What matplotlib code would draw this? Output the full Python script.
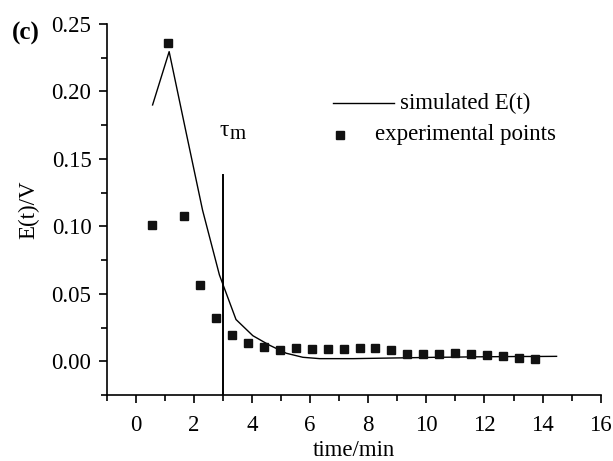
import matplotlib.pyplot as plt
from matplotlib.lines import Line2D
from matplotlib.ticker import MultipleLocator

plt.rcParams['font.family'] = ['Liberation Serif', 'DejaVu Serif']

# experimental residence time points
t_exp = [0.55, 1.10, 1.65, 2.20, 2.75, 3.30, 3.85, 4.40, 4.95, 5.50, 6.05, 6.60, 7.15,
         7.70, 8.25, 8.80, 9.35, 9.90, 10.45, 11.00, 11.55, 12.10, 12.65, 13.20, 13.75]
e_exp = [0.101, 0.236, 0.108, 0.0564, 0.0324, 0.0193, 0.0136, 0.0106, 0.0087, 0.0099,
         0.0093, 0.0093, 0.0093, 0.0099, 0.0099, 0.0084, 0.0057, 0.0057, 0.0057, 0.0065,
         0.0055, 0.0050, 0.0040, 0.0025, 0.0018]

# simulated E(t)
t_sim = [0.58, 1.15, 1.73, 2.30, 2.88, 3.45, 4.03, 4.60, 5.18, 5.75, 6.33, 6.90, 7.48,
         8.05, 8.63, 9.20, 9.78, 10.35, 10.93, 11.50, 12.08, 12.65, 13.23, 13.80, 14.48]
e_sim = [0.190, 0.2295, 0.170, 0.112, 0.064, 0.031, 0.019, 0.012, 0.0060, 0.0030,
         0.0020, 0.0020, 0.0020, 0.0022, 0.0024, 0.0026, 0.0028, 0.0030, 0.0031, 0.0033,
         0.0034, 0.0035, 0.0036, 0.0036, 0.0037]

tau_m = 3.0

fig = plt.figure(figsize=(6.13, 4.61), dpi=100)
ax = fig.add_axes([0.174, 0.143, 0.806, 0.805])

ax.plot(t_sim, e_sim, color='black', lw=1.0)
ax.plot(t_exp, e_exp, 's', color='#111111', ms=5.3, clip_on=False)
ax.plot([tau_m, tau_m], [-0.025, 0.138], color='black', lw=1.4)

# tau_m label: greek tau followed by a slightly lowered m
tau = ax.text(2.88, 0.171, 'τ', fontsize=17, va='center', ha='left')
ax.annotate('m', xy=(1, 0.5), xycoords=tau, xytext=(0.5, -2.5), textcoords='offset points',
            fontsize=15, va='center', ha='left')

ax.set_xlim(-1, 16)
ax.set_ylim(-0.025, 0.25)
ax.xaxis.set_major_locator(MultipleLocator(2))
ax.xaxis.set_minor_locator(MultipleLocator(1))
ax.yaxis.set_major_locator(MultipleLocator(0.05))
ax.yaxis.set_minor_locator(MultipleLocator(0.025))
ax.yaxis.set_major_formatter(plt.FormatStrFormatter('%.2f'))

for s in ['top', 'right']:
    ax.spines[s].set_visible(False)
for s in ['left', 'bottom']:
    ax.spines[s].set_linewidth(1.2)

ax.tick_params(which='major', direction='out', length=6, width=1.2, labelsize=16.5)
ax.tick_params(which='minor', direction='out', length=4, width=1.2)
ax.tick_params(axis='x', pad=8)
ax.tick_params(axis='y', pad=5)

ax.set_xlabel('time/min', fontsize=16.5, labelpad=3)
ax.set_ylabel('E(t)/V', fontsize=16.5, labelpad=9)

# legend drawn by hand to keep the original layout
ax.add_line(Line2D([0.4575, 0.5816], [0.787, 0.787], transform=ax.transAxes,
                   color='black', lw=1.0))
ax.text(0.594, 0.787, 'simulated E(t)', transform=ax.transAxes, fontsize=16.5, va='center')
ax.add_line(Line2D([0.472], [0.701], transform=ax.transAxes, marker='s', ms=5.3,
                   color='#111111', ls='none'))
ax.text(0.543, 0.701, 'experimental points', transform=ax.transAxes, fontsize=16.5, va='center')

fig.text(0.02, 0.928, '(c)', fontsize=18, fontweight='bold', va='center')

fig.savefig('out.png', dpi=100)
